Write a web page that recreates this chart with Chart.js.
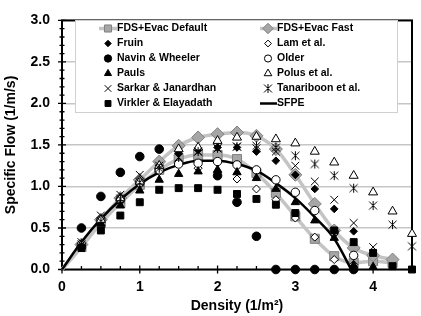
<!DOCTYPE html>
<html><head><meta charset="utf-8">
<style>html,body{margin:0;padding:0;background:#fff;}#wrap{width:421px;height:316px;}</style>
<script src="https://cdn.jsdelivr.net/npm/chart.js@4.4.0/dist/chart.umd.min.js"></script>
</head><body><div id="wrap"><canvas id="c" width="421" height="316"></canvas></div>
<script>
// ---- data ----
const densities   = [0.25,0.5,0.75,1.0,1.25,1.5,1.75,2.0,2.25,2.5,2.75,3.0,3.25,3.5,3.75,4.0,4.25,4.5];
const fdsDefault  = [0.27,0.56,0.80,1.02,1.20,1.33,1.38,1.38,1.33,1.16,0.92,0.64,0.37,0.16,0.08,0.10,0.08,null];
const fdsFast     = [0.30,0.60,0.86,1.08,1.30,1.49,1.59,1.63,1.65,1.61,1.45,1.14,0.79,0.47,0.26,0.17,0.12,null];
const fruin       = [0.30,0.60,0.85,1.06,1.25,1.40,1.44,1.47,1.47,1.42,1.31,1.14,0.97,0.73,0.46,null,null,null];
const lam         = [0.29,0.57,0.82,1.02,1.18,1.27,1.22,1.17,1.09,0.97,0.84,0.62,0.39,0.12,0.06,null,null,null];
const navin       = [0.50,0.88,1.17,1.36,1.45,null,null,1.13,0.81,0.40,0,0,0,0,0,null,null,null];
const older       = [0.30,0.60,0.85,1.05,1.20,1.27,1.28,1.30,1.26,1.20,1.08,0.93,0.71,0.45,0.17,null,null,null];
const pauls       = [0.28,0.55,0.77,0.95,1.08,1.15,1.18,1.20,1.17,1.10,0.97,0.81,0.59,0.38,0.05,0.03,null,null];
const polus       = [0.30,0.60,0.86,1.06,1.25,1.45,1.47,1.55,1.59,1.60,1.57,1.52,1.42,1.29,1.13,0.93,0.70,0.43];
const sarkar      = [0.33,0.65,0.90,1.14,1.25,1.35,1.42,1.46,1.48,1.46,1.42,1.25,1.06,0.84,0.56,0.27,null,null];
const tanariboon  = [0.30,0.58,0.85,1.05,1.22,1.35,1.42,1.46,1.48,1.49,1.47,1.37,1.27,1.13,0.98,0.77,0.54,0.28];
const virkler     = [0.26,0.47,0.65,0.81,0.96,0.98,0.98,0.96,0.91,0.85,0.78,0.68,null,0.47,0.33,0.20,0.04,0];
const sfpeX       = [0,0.25,0.5,0.75,1.0,1.25,1.5,1.75,2.0,2.25,2.5,2.75,3.0,3.25,3.5,3.72];
const sfpeY       = [0,0.33,0.61,0.84,1.03,1.17,1.26,1.31,1.31,1.27,1.19,1.04,0.86,0.63,0.37,0];
const xTickValues = [0,1,2,3,4];
const xTickLabels = ['0','1','2','3','4'];
const yTickValues = [0,0.5,1.0,1.5,2.0,2.5,3.0];
const yTickLabels = ['0.0','0.5','1.0','1.5','2.0','2.5','3.0'];
const seriesNames = ['FDS+Evac Default','FDS+Evac Fast','Fruin','Lam et al.','Navin & Wheeler','Older','Pauls','Polus et al.','Sarkar & Janardhan','Tanariboon et al.','Virkler & Elayadath','SFPE'];

const FONT = '"Liberation Sans", Arial, sans-serif';

function pts(arr, origin){
  const out = origin ? [{x:0,y:0}] : [];
  densities.forEach((x,i)=>{ if(arr[i]!==null && arr[i]!==undefined) out.push({x:x,y:arr[i]}); });
  return out;
}
function starCanvas(){
  const c=document.createElement('canvas'); c.width=11; c.height=11;
  const g=c.getContext('2d'); g.strokeStyle='#000'; g.lineWidth=1;
  g.beginPath();
  g.moveTo(1.5,1.5); g.lineTo(9.5,9.5);
  g.moveTo(9.5,1.5); g.lineTo(1.5,9.5);
  g.moveTo(5.5,1); g.lineTo(5.5,10);
  g.stroke(); return c;
}
const starImg = starCanvas();

function marker(name, arr, style, r, fill, border, bw, ord){
  return {label:name, data:pts(arr), showLine:false, pointStyle:style, pointRadius:r, pointHoverRadius:r,
    pointBackgroundColor:fill, pointBorderColor:border, pointBorderWidth:bw, order:ord, clip:false};
}
const GRAYF='#a6a6a6', GRAYB='#808080', GRAYL='#c4c4c4';
const datasets = [
  {label:seriesNames[0], data:pts(fdsDefault,true), showLine:true, borderColor:GRAYL, borderWidth:3.5,
   cubicInterpolationMode:'monotone', pointStyle:'rect', pointRadius:c=>(c.raw&&c.raw.x===0)?0:6.4,
   pointBackgroundColor:GRAYF, pointBorderColor:GRAYB, pointBorderWidth:1, order:20, clip:false},
  {label:seriesNames[1], data:pts(fdsFast,true), showLine:true, borderColor:GRAYL, borderWidth:3.5,
   cubicInterpolationMode:'monotone', pointStyle:'rectRot', pointRadius:c=>(c.raw&&c.raw.x===0)?0:6.5,
   pointBackgroundColor:GRAYF, pointBorderColor:GRAYB, pointBorderWidth:1, order:19, clip:false},
  marker(seriesNames[2], fruin, 'rectRot', 3.8, '#000', '#000', 1, 17),
  marker(seriesNames[3], lam, 'rectRot', 4, '#fff', '#000', 1, 16),
  marker(seriesNames[4], navin, 'circle', 4.3, '#000', '#000', 1, 15),
  marker(seriesNames[5], older, 'circle', 4.2, '#fff', '#000', 1, 14),
  marker(seriesNames[6], pauls, 'triangle', 4.8, '#000', '#000', 1, 13),
  marker(seriesNames[7], polus, 'triangle', 5.2, '#fff', '#000', 1, 12),
  marker(seriesNames[8], sarkar, 'crossRot', 5.5, '#000', '#000', 1, 11),
  marker(seriesNames[9], tanariboon, starImg, 5.5, '#000', '#000', 1, 10),
  marker(seriesNames[10], virkler, 'rect', 4.9, '#000', '#000', 1, 9),
  {label:seriesNames[11], data:sfpeX.map((x,i)=>({x:x,y:sfpeY[i]})), showLine:true, borderColor:'#000',
   borderWidth:2.5, cubicInterpolationMode:'monotone', pointRadius:0, order:18, clip:false}
];

const decor = {
  id:'decor',
  beforeDatasetsDraw(chart){
    const {ctx, chartArea:a, scales:{x,y}} = chart;
    ctx.save();
    ctx.strokeStyle='#000'; ctx.lineWidth=2;
    ctx.strokeRect(a.left, a.top, a.right-a.left, a.bottom-a.top);
    ctx.lineWidth=1.3; ctx.beginPath();
    for(let k=0;k<=30;k++){
      const py=y.getPixelForValue(k/10); const L=(k%5===0)?4:2.5;
      ctx.moveTo(a.left-L,py); ctx.lineTo(a.left+L,py);
    }
    for(let k=0;k<=18;k++){
      const px=x.getPixelForValue(k/4);
      if(k%4===0){ ctx.moveTo(px,a.bottom-4); ctx.lineTo(px,a.bottom+4); }
      else { ctx.moveTo(px,a.bottom-3.5); ctx.lineTo(px,a.bottom); }
    }
    ctx.stroke(); ctx.restore();
  },
  afterDraw(chart){
    const ctx=chart.ctx; ctx.save();
    const bx=75, by=20, bw=322, bh=92;
    ctx.fillStyle='#fff'; ctx.fillRect(bx,by,bw,bh);
    ctx.strokeStyle='#d0d0d0'; ctx.lineWidth=1; ctx.strokeRect(bx+0.5,by+0.5,bw,bh);
    ctx.font='bold 10.5px '+FONT; ctx.textBaseline='middle'; ctx.textAlign='left'; ctx.fillStyle='#000';
    chart.data.datasets.forEach((ds,i)=>{
      const col=i%2, row=Math.floor(i/2);
      const cy=28.5+row*15;
      const mx= col===0?108:268, lx0=col===0?99:260, lx1=col===0?117:277;
      if(ds.showLine){
        ctx.save(); ctx.strokeStyle=ds.borderColor; ctx.lineWidth=ds.borderWidth;
        ctx.beginPath(); ctx.moveTo(lx0,cy); ctx.lineTo(lx1,cy); ctx.stroke(); ctx.restore();
      }
      if(i!==11){
        const r = (typeof ds.pointRadius==='function')?(i===0?5:5.2):ds.pointRadius*0.85;
        ctx.save(); ctx.fillStyle=ds.pointBackgroundColor; ctx.strokeStyle=ds.pointBorderColor;
        ctx.lineWidth=ds.pointBorderWidth;
        Chart.helpers.drawPoint(ctx,{pointStyle:ds.pointStyle,radius:r,borderWidth:ds.pointBorderWidth,rotation:0},mx,cy);
        ctx.restore();
      }
      ctx.fillStyle='#000';
      ctx.fillText(ds.label, lx1, cy);
    });
    ctx.restore();
  }
};

new Chart(document.getElementById('c'), {
  type:'scatter',
  data:{datasets:datasets},
  options:{
    responsive:false, animation:false, devicePixelRatio:1,
    layout:{padding:{top:10,right:9,left:0,bottom:0}},
    plugins:{legend:{display:false}, tooltip:{enabled:false}},
    scales:{
      x:{type:'linear', min:0, max:4.5,
        afterBuildTicks:s=>{s.ticks=xTickValues.map(v=>({value:v}));},
        ticks:{callback:(v)=>xTickLabels[xTickValues.indexOf(v)], font:{family:FONT,size:14,weight:'bold'}, color:'#000', padding:9, maxRotation:0},
        grid:{display:false, drawTicks:false}, border:{display:false},
        title:{display:true, text:'Density (1/m²)', color:'#000', font:{family:FONT,size:14,weight:'bold'}, padding:{top:0,bottom:1}},
        afterFit:s=>{s.height=46.5;}
      },
      y:{type:'linear', min:0, max:3,
        afterBuildTicks:s=>{s.ticks=yTickValues.map(v=>({value:v}));},
        ticks:{callback:(v)=>yTickLabels[yTickValues.indexOf(v)], font:{family:FONT,size:14,weight:'bold'}, color:'#000', padding:12},
        grid:{color:'#c6c6c6', lineWidth:1.5, drawTicks:false}, border:{display:false},
        title:{display:true, text:'Specific Flow (1/m/s)', color:'#000', font:{family:FONT,size:14,weight:'bold'}, padding:{top:2.6,bottom:0}},
        afterFit:s=>{s.width=62;}
      }
    }
  },
  plugins:[decor]
});
</script></body></html>
